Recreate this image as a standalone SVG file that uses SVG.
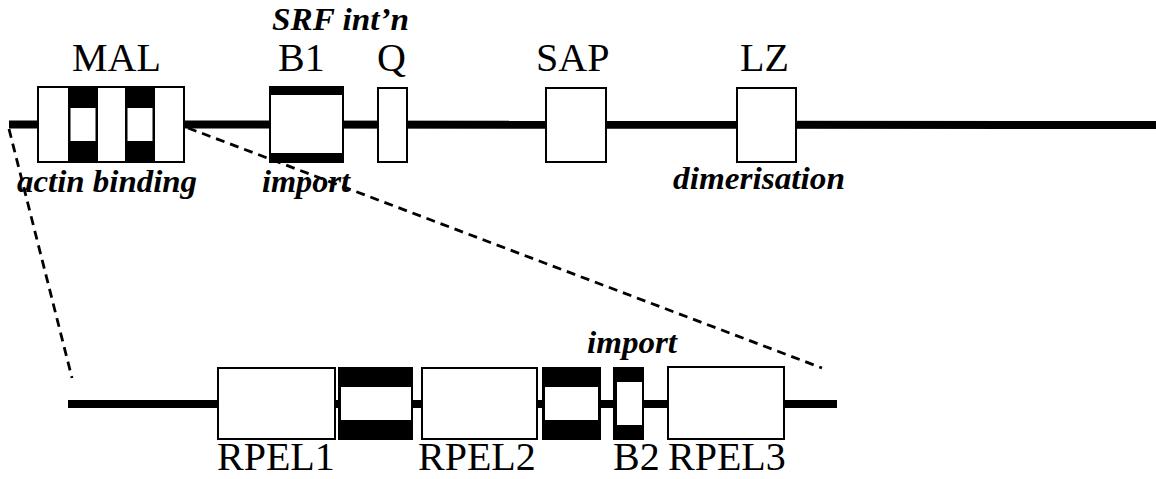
<svg xmlns="http://www.w3.org/2000/svg" width="1156" height="479" viewBox="0 0 1156 479">
  <style>
    .box { fill: #ffffff; stroke: #000000; stroke-width: 2; }
    .blk { fill: #000000; }
    .hole { fill: #ffffff; }
    .backbone { stroke: #000000; stroke-width: 8; fill: none; }
    .zoomline { stroke: #000000; stroke-width: 2.8; stroke-dasharray: 9 6; fill: none; }
    .name { font-family: "Liberation Serif", "Times New Roman", serif; font-size: 40px; fill: #000000; }
    .note { font-family: "Liberation Serif", "Times New Roman", serif; font-size: 31px; font-weight: bold; font-style: italic; fill: #000000; }
  </style>

  <!-- protein backbones and the dashed expansion lines -->
  <g id="connectors">
    <line class="backbone" x1="9" y1="124.5" x2="1156" y2="125"/>
    <line class="backbone" x1="68" y1="404" x2="837" y2="404"/>
    <line class="zoomline" x1="9" y1="129" x2="72" y2="378"/>
    <line class="zoomline" x1="188" y1="128" x2="822" y2="368"/>
  </g>

  <!-- full-length MAL protein -->
  <g id="mal">
    <rect class="box" x="38" y="87" width="146" height="75"/>
    <rect class="blk" x="68" y="87" width="30" height="75"/>
    <rect class="hole" x="70.5" y="108" width="25" height="33"/>
    <rect class="blk" x="125" y="87" width="30" height="75"/>
    <rect class="hole" x="127.5" y="108" width="25" height="33"/>
    <text class="name" x="72" y="71">MAL</text>
    <text class="note" x="17" y="192" textLength="180" lengthAdjust="spacingAndGlyphs">actin binding</text>
  </g>

  <g id="b1">
    <rect class="box" x="270" y="87" width="73" height="75"/>
    <rect class="blk" x="270" y="86" width="73" height="9"/>
    <rect class="blk" x="270" y="153" width="73" height="10"/>
    <text class="name" x="278" y="71">B1</text>
    <text class="note" x="272" y="30" textLength="137" lengthAdjust="spacingAndGlyphs">SRF int’n</text>
    <text class="note" x="262" y="192" textLength="88" lengthAdjust="spacingAndGlyphs">import</text>
  </g>

  <g id="q">
    <rect class="box" x="378" y="88" width="29" height="74"/>
    <text class="name" x="377" y="71">Q</text>
  </g>

  <g id="sap">
    <rect class="box" x="546" y="88" width="60" height="74"/>
    <text class="name" x="536" y="71">SAP</text>
  </g>

  <g id="lz">
    <rect class="box" x="737" y="88" width="59" height="74"/>
    <text class="name" x="740" y="71">LZ</text>
    <text class="note" x="673" y="189" textLength="172" lengthAdjust="spacingAndGlyphs">dimerisation</text>
  </g>

  <!-- expanded RPEL region -->
  <g id="rpel1">
    <rect class="box" x="218" y="368" width="117" height="71"/>
    <text class="name" x="217" y="470">RPEL1</text>
  </g>

  <g id="spacer1">
    <rect class="blk" x="338" y="367" width="75" height="73"/>
    <rect class="hole" x="341" y="387" width="70" height="33"/>
  </g>

  <g id="rpel2">
    <rect class="box" x="422" y="368" width="115" height="71"/>
    <text class="name" x="418" y="470">RPEL2</text>
  </g>

  <g id="spacer2">
    <rect class="blk" x="542" y="367" width="59" height="73"/>
    <rect class="hole" x="545" y="387" width="53" height="33"/>
  </g>

  <g id="b2">
    <rect class="blk" x="613" y="367" width="31" height="73"/>
    <rect class="hole" x="617" y="382" width="25" height="43"/>
    <text class="name" x="613" y="470">B2</text>
    <text class="note" x="587" y="353" textLength="90" lengthAdjust="spacingAndGlyphs">import</text>
  </g>

  <g id="rpel3">
    <rect class="box" x="668" y="367" width="116" height="72"/>
    <text class="name" x="668" y="470">RPEL3</text>
  </g>
</svg>
